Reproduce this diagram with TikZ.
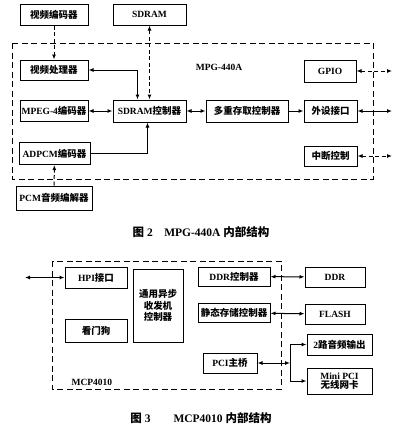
\documentclass[tikz,border=0pt]{standalone}
\usepackage{fontspec}
\setmainfont{Liberation Serif}
\newfontfamily\cjk{Noto Sans CJK SC}
\newcommand{\zh}[1]{{\cjk #1}}
\usetikzlibrary{arrows.meta}

\begin{document}
\begin{tikzpicture}[
      x=1pt,
      y=-1pt,
      >={Latex[length=5pt,width=4pt]},
      flow/.style={->, line width=1pt},
      both/.style={<->, line width=1pt},
      bus/.style={<->, line width=1pt, dash pattern=on 4pt off 2.5pt},
      feed/.style={->, line width=1pt, dash pattern=on 4pt off 2.5pt},
      box/.style={draw, line width=1pt, align=center, inner sep=1pt,
        font=\fontsize{9.5}{11.5}\selectfont\bfseries},
      chip/.style={draw, line width=1pt, dash pattern=on 6pt off 3.5pt},
      tag/.style={font=\fontsize{9.5}{11}\selectfont\bfseries},
      caption/.style={font=\fontsize{11.5}{13}\selectfont\bfseries}
    ]
    \useasboundingbox (0,0) rectangle (400,429);

    % MPG-440A
    \draw[chip] (12,43) rectangle (373,179);
    \node[tag] (mpglabel) at (219,67) {MPG-440A};
    \node[box, minimum width=68, minimum height=21] (venc) at (54,14.5) {\zh{视频编码器}};
    \node[box, minimum width=73, minimum height=21] (sdram) at (149.5,14.5) {SDRAM};
    \node[box, minimum width=68, minimum height=20] (vproc) at (54,70) {\zh{视频处理器}};
    \node[box, minimum width=68, minimum height=21] (mpeg) at (54,111) {MPEG-4\zh{编码器}};
    \node[box, minimum width=73, minimum height=22] (sdctl) at (149.5,111) {SDRAM\zh{控制器}};
    \node[box, minimum width=82, minimum height=22] (multi) at (247,111) {\zh{多重存取控制器}};
    \node[box, minimum width=53, minimum height=22] (periph) at (330.5,111) {\zh{外设接口}};
    \node[box, minimum width=52, minimum height=22] (gpio) at (330,71) {GPIO};
    \node[box, minimum width=53, minimum height=20] (irq) at (330.5,156) {\zh{中断控制}};
    \node[box, minimum width=71, minimum height=22] (adpcm) at (54.5,153.5) {ADPCM\zh{编码器}};
    \node[box, minimum width=76, minimum height=24] (pcm) at (54,198) {PCM\zh{音频编解器}};
    \coordinate (gpioout) at (392,71);
    \coordinate (periphout) at (392,111);
    \coordinate (irqout) at (392,156);

    \draw[feed] (venc) -- (vproc);
    \draw[bus] (sdram) -- (sdctl);
    \draw[both] (vproc.east) -| ([xshift=-12]sdctl.north);
    \draw[both] (mpeg) -- (sdctl);
    \draw[both] (sdctl) -- (multi);
    \draw[flow] (multi) -- (periph);
    \draw[both] (periph) -- (periphout);
    \draw[bus] (gpio) -- (gpioout);
    \draw[bus] (irq) -- (irqout);
    \draw[flow] (adpcm.east) -| ([xshift=-2]sdctl.south);
    \draw[feed] (pcm) -- (adpcm);

    \node[caption] (cap2) at (201,232) {\zh{图}\ 2\quad MPG-440A\ \zh{内部结构}};

    % MCP4010
    \draw[chip] (52,261) rectangle (281,389);
    \node[tag, anchor=west] (mcplabel) at (68,382) {MCP4010};
    \node[box, minimum width=62, minimum height=21] (hpi) at (96,277.5) {HPI\zh{接口}};
    \node[box, minimum width=50, minimum height=73] (uart) at (158,305.5) {\zh{通用异步}\\\zh{收发机}\\\zh{控制器}};
    \node[box, minimum width=62, minimum height=23] (wdog) at (96,330.5) {\zh{看门狗}};
    \node[box, minimum width=72, minimum height=19] (ddrctl) at (234,276.5) {DDR\zh{控制器}};
    \node[box, minimum width=72, minimum height=19] (sramctl) at (234,313) {\zh{静态存储控制器}};
    \node[box, minimum width=54, minimum height=20] (pcibr) at (230,363) {PCI\zh{主桥}};
    \node[box, minimum width=60, minimum height=20] (ddr) at (335,277) {DDR};
    \node[box, minimum width=60, minimum height=20] (flash) at (335,314) {FLASH};
    \node[box, minimum width=65, minimum height=21] (audio) at (339.5,344.5) {2\zh{路音频输出}};
    \node[box, minimum width=65, minimum height=26] (minipci) at (339.5,381) {Mini PCI\\[-2pt]\zh{无线网卡}};
    \coordinate (hpiout) at (25,277.5);
    \coordinate (split) at (290,363);

    \draw[both] (hpiout) -- (hpi);
    \draw[both] (ddrctl) -- (ddr);
    \draw[both] (sramctl) -- (flash);
    \draw[both] (pcibr) -- (split);
    \draw[flow] (split) |- (audio.west);
    \draw[flow] (split) |- (minipci.west);

    \node[caption] (cap3) at (201,418) {\zh{图}\ 3\qquad MCP4010\ \zh{内部结构}};
  \end{tikzpicture}
\end{document}
